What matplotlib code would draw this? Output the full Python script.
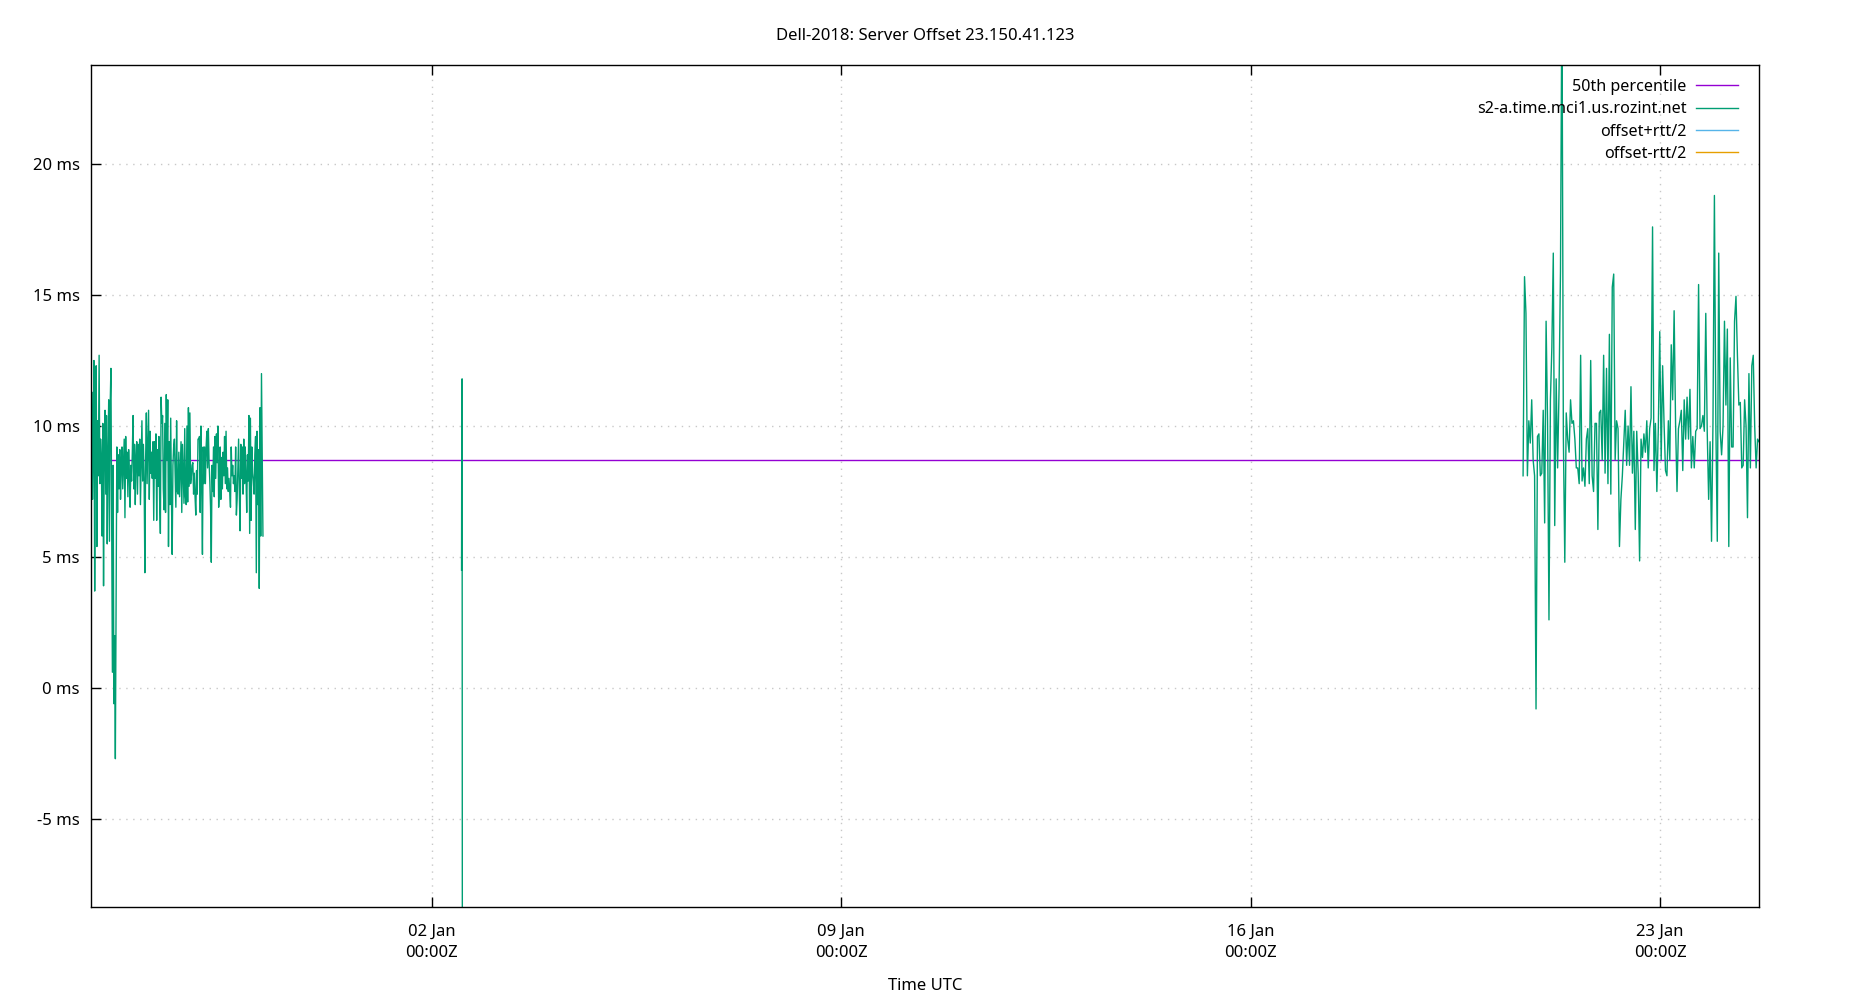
import numpy as np
import pandas as pd
import matplotlib
matplotlib.use("Agg")
import matplotlib.pyplot as plt

plt.rcParams['font.family'] = ['Noto Sans', 'DejaVu Sans']

title = "Dell-2018: Server Offset 23.150.41.123"
server = "s2-a.time.mci1.us.rozint.net"

# offsets in ms (three runs of samples)
run1_start, run1_end = "2018-12-27 04:06", "2018-12-30 02:40"
run1_ms = [
    6.0, 11.3, 7.2, 8.9, 12.5, 3.7, 9.8, 12.3, 5.4, 10.2, 8.1, 12.7, 7.8, 9.5, 8.8, 5.8,
    10.1, 3.9, 9.2, 10.6, 7.4, 10.4, 5.5, 9.0, 11.0, 5.6, 10.8, 12.2, 6.3, 0.6, 8.5, -0.6,
    2.0, -2.7, 3.5, 9.2, 6.7, 8.9, 7.6, 9.1, 7.2, 8.4, 9.2, 7.6, 8.6, 9.5, 6.5, 9.6,
    8.0, 9.0, 7.3, 9.1, 8.2, 6.9, 8.5, 7.9, 9.0, 10.4, 7.6, 9.3, 7.0, 8.8, 9.4, 7.4,
    9.3, 8.1, 9.5, 7.0, 8.6, 10.2, 7.9, 9.3, 7.9, 4.4, 8.7, 10.5, 7.8, 9.2,
    10.6, 7.2, 9.8, 8.2, 9.0, 8.0, 9.4, 6.4, 9.4, 8.0, 9.7, 6.4, 9.1, 7.7, 9.6, 7.2,
    5.9, 11.1, 10.1, 10.4, 7.6, 6.8, 10.1, 6.7, 11.2, 8.7, 11.0, 5.4, 9.4, 7.0, 10.3, 7.3,
    5.1, 8.5, 9.2, 9.5, 8.1, 6.9, 10.2, 7.5, 7.4, 9.0, 7.3, 8.3, 9.4, 6.7, 9.3, 8.1,
    7.05, 9.9, 7.3, 7.0, 10.0, 7.1, 10.7, 7.7, 10.5, 7.8, 8.1, 8.5, 8.6, 7.4, 8.2, 7.3,
    6.6, 8.3, 7.4, 9.5, 9.5, 9.6, 6.7, 10.0, 7.8, 5.1, 9.2, 7.8,
    9.2, 7.8, 9.2, 9.8, 8.4, 9.9, 8.6, 7.9, 6.9, 4.8, 8.5, 7.5, 9.2, 7.3, 9.6, 8.0,
    9.7, 8.6, 10.0, 6.9, 7.7, 9.2, 7.2, 8.8, 7.6, 9.0, 8.1, 9.6, 7.8, 9.8, 7.6, 8.4,
    7.5, 8.0, 7.5, 6.9, 9.2, 8.1, 8.5, 7.8, 8.1, 7.5, 9.2, 6.6, 7.2, 8.3, 9.5, 7.4,
    6.0, 9.3, 8.0, 9.2, 7.4, 9.5, 7.8, 9.2, 8.1, 6.7, 8.9, 7.9, 10.4, 5.9, 10.3, 6.4,
    9.2, 8.2, 7.9, 7.4, 8.9, 9.6, 4.4, 9.8, 7.0, 9.1, 3.8, 10.7, 5.8, 12.0, 8.8, 5.8,
]

run2_start, run2_end = "2019-01-02 12:10", "2019-01-02 12:30"
run2_ms = [4.5, 11.4, 11.8, -12.0]

run3_start, run3_end = "2019-01-20 15:48", "2019-01-24 16:37"
run3_ms = [
    8.1, 15.7, 14.3, 8.1, 10.2, 9.35, 11.0, 8.7, 8.1, -0.8, 9.6, 9.7, 8.1, 8.2,
    10.6, 6.3, 14.0, 10.2, 2.6, 11.0, 13.0, 16.6, 6.2, 11.8, 8.4, 11.4, 15.9, 27.0, 9.6, 4.8,
    10.5, 9.5, 9.0, 11.0, 10.1, 10.2, 9.5, 8.4,
    8.4, 7.8, 12.7, 7.9, 8.4, 7.7, 9.5, 9.9, 7.8, 12.5, 8.1, 7.5, 10.1, 10.1, 6.05, 10.5,
    10.6, 8.7, 12.7, 8.2, 12.2, 7.8, 13.5, 7.4, 15.3, 15.8, 8.7, 10.2, 9.9, 5.4, 7.2, 8.1,
    9.4, 10.6, 8.5, 10.0, 8.5, 11.5, 8.2, 9.8, 6.05,
    9.8, 8.2, 4.85, 9.5, 8.8, 9.7, 9.0, 10.2, 8.4, 9.9, 10.3, 17.6, 8.3, 10.1, 7.5, 9.9,
    13.6, 8.7, 12.3, 10.1, 8.3, 8.1, 10.2, 8.7, 13.1, 11.0, 14.4, 10.1, 7.5, 9.9, 10.2, 10.6,
    8.3, 11.0, 9.5, 11.1, 9.5, 11.4, 8.4, 9.6, 8.4, 9.8, 9.9, 15.4, 9.9,
    10.0, 10.4, 9.8, 14.3, 9.8, 7.2, 9.4, 5.6, 10.1, 18.8, 10.1, 5.6, 16.6, 9.8, 8.9, 10.0,
    14.0, 10.8, 13.7, 5.4, 12.6, 9.2, 9.2, 14.0, 14.95, 12.7, 10.8, 10.9, 8.4, 8.5, 11.0, 10.0,
    6.5, 12.0, 8.4, 12.3, 12.7, 10.0, 8.4, 9.5, 9.4,
]

p50_ms = 8.70

runs = [
    (pd.date_range(run1_start, run1_end, periods=len(run1_ms)), run1_ms),
    (pd.date_range(run2_start, run2_end, periods=len(run2_ms)), run2_ms),
    (pd.date_range(run3_start, run3_end, periods=len(run3_ms)), run3_ms),
]

x_start = pd.Timestamp(run1_start)
x_end = pd.Timestamp(run3_end)

tick_days = ["2019-01-02", "2019-01-09", "2019-01-16", "2019-01-23"]
tick_labels = ["02 Jan\n00:00Z", "09 Jan\n00:00Z", "16 Jan\n00:00Z", "23 Jan\n00:00Z"]
ytick_vals = [-5, 0, 5, 10, 15, 20]

fig = plt.figure(figsize=(18.5, 10), dpi=100)
ax = fig.add_axes([91 / 1850, 1 - 907 / 1000, (1759 - 91) / 1850, (907 - 65) / 1000])

ax.plot([x_start, x_end], [p50_ms, p50_ms], color='#9400d3', lw=1.0, label='50th percentile')
for i, (t, v) in enumerate(runs):
    ax.plot(t, v, color='#009e73', lw=1.0, label=server if i == 0 else None)
ax.plot([], [], color='#56b4e9', lw=1.0, label='offset+rtt/2')
ax.plot([], [], color='#e69f00', lw=1.0, label='offset-rtt/2')

ax.set_xlim(x_start, x_end)
ax.set_ylim(-8.36, 23.78)

ax.set_xticks(pd.to_datetime(tick_days))
ax.set_xticklabels(tick_labels)
for lbl in ax.get_xticklabels():
    lbl.set_linespacing(1.45)
ax.set_yticks(ytick_vals)
ax.set_yticklabels([f"{v} ms" for v in ytick_vals])

ax.tick_params(axis='both', direction='in', length=7, width=1, labelsize=12, pad=8)
ax.tick_params(axis='x', top=True, pad=12)
ax.tick_params(axis='y', right=False)
for s in ax.spines.values():
    s.set_linewidth(1.0)

ax.grid(True, color='#c8c8c8', ls=(0, (1, 4)), lw=1.0)

fig.text(0.5, 1 - 35.5 / 1000, title, ha='center', va='center', fontsize=12)
fig.text(0.5, 1 - 986.5 / 1000, "Time UTC", ha='center', va='center', fontsize=12)

ax.legend(loc='upper right', frameon=False, markerfirst=False, fontsize=11.6,
          handlelength=2.6, handletextpad=0.6, labelspacing=0.4,
          borderaxespad=0.45, bbox_to_anchor=(0.9958, 1.0))

fig.savefig('out.png', dpi=100)
